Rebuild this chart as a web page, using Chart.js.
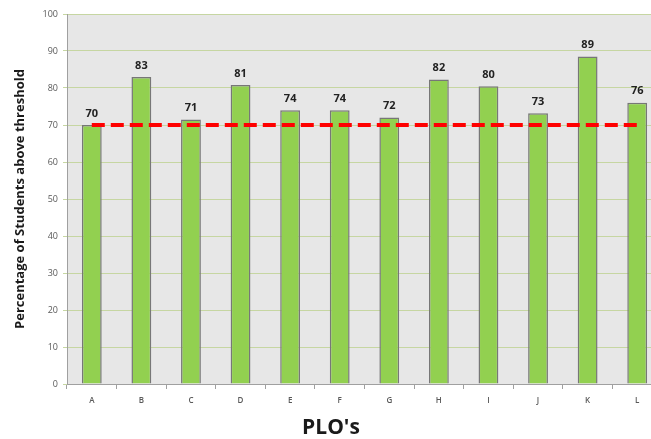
<!DOCTYPE html>
<html lang="en">
<head>
    <meta charset="UTF-8">
    <title>PLO attainment</title>
    <script src="https://cdn.jsdelivr.net/npm/chart.js"></script>
    <style>
        html, body { margin: 0; padding: 0; background: #fff; overflow: hidden; }
        .wrap { position: relative; width: 664px; height: 439px; }
        #xTitle { position: absolute; left: 271px; width: 120px; top: 412px; text-align: center;
                  font: 700 21px "Open Sans", Arial, sans-serif; color: #1a1a1a; }
    </style>
</head>
<body>
    <div class="wrap">
        <canvas id="ploChart" width="664" height="439"></canvas>
        <div id="xTitle">PLO's</div>
    </div>

    <script>
        // PLO categories and % of students above threshold
        const plos = ["A", "B", "C", "D", "E", "F", "G", "H", "I", "J", "K", "L"];
        const percentAbove = [70, 83, 71.5, 80.8, 74, 74, 72, 82.3, 80.5, 73.2, 88.5, 76];
        const shownLabels = [70, 83, 71, 81, 74, 74, 72, 82, 80, 73, 89, 76];
        const threshold = [70, 70, 70, 70, 70, 70, 70, 70, 70, 70, 70, 70];
        const yTicks = [0, 10, 20, 30, 40, 50, 60, 70, 80, 90, 100];

        // grey plot background
        const plotBg = {
            id: 'plotBg',
            beforeDraw(chart) {
                const a = chart.chartArea, ctx = chart.ctx;
                ctx.save();
                ctx.fillStyle = '#e7e7e7';
                ctx.fillRect(a.left, a.top, a.right - a.left, a.bottom - a.top);
                ctx.restore();
            }
        };

        // value labels above bars
        const barLabels = {
            id: 'barLabels',
            afterDatasetsDraw(chart) {
                const meta = chart.getDatasetMeta(0), ctx = chart.ctx;
                ctx.save();
                ctx.font = '700 11px "Open Sans", Arial, sans-serif';
                ctx.fillStyle = '#222';
                ctx.textAlign = 'center';
                ctx.textBaseline = 'bottom';
                meta.data.forEach((bar, i) => {
                    ctx.fillText(shownLabels[i], bar.x, bar.y - 6);
                });
                ctx.restore();
            }
        };

        new Chart(document.getElementById('ploChart'), {
            type: 'bar',
            data: {
                labels: plos,
                datasets: [{
                    type: 'bar',
                    data: percentAbove,
                    backgroundColor: '#92d050',
                    borderColor: '#777777',
                    borderWidth: 1.5,
                    categoryPercentage: 1,
                    barPercentage: 0.4,
                    order: 2
                }, {
                    type: 'line',
                    data: threshold,
                    borderColor: '#ff0000',
                    borderWidth: 4,
                    borderDash: [13, 6],
                    pointRadius: 0,
                    fill: false,
                    order: 1
                }]
            },
            options: {
                responsive: false,
                animation: false,
                layout: { padding: { top: 14, right: 2, left: 0, bottom: 0 } },
                plugins: { legend: { display: false }, tooltip: { enabled: false } },
                scales: {
                    x: {
                        afterFit(s) { s.height = 55; },
                        grid: { drawOnChartArea: false, drawTicks: true, tickLength: 5, color: '#a0a0a0' },
                        border: { color: '#a0a0a0' },
                        ticks: { color: '#595959', padding: 7, font: { family: 'Open Sans', size: 8, weight: '600' } }
                    },
                    y: {
                        min: 0, max: 100,
                        afterFit(s) { s.width = 67; },
                        afterBuildTicks(s) { s.ticks = yTicks.map(v => ({ value: v })); },
                        grid: { color: '#c6d6a2', tickLength: 4, lineWidth: 1 },
                        border: { color: '#a0a0a0' },
                        ticks: { color: '#595959', padding: 5, font: { family: 'Open Sans', size: 9 } },
                        title: {
                            display: true,
                            text: 'Percentage of Students above threshold',
                            color: '#1a1a1a',
                            padding: { top: 12, bottom: 0 },
                            font: { family: 'Open Sans', size: 13, weight: '700' }
                        }
                    }
                }
            },
            plugins: [plotBg, barLabels]
        });
    </script>
</body>
</html>
